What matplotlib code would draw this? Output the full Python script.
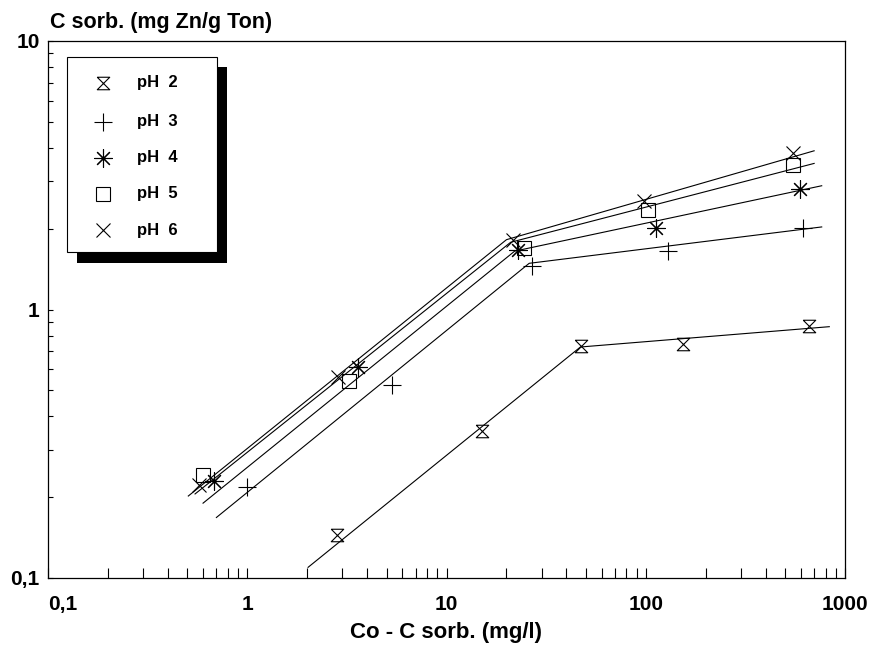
import numpy as np
import matplotlib
matplotlib.use('Agg')
import matplotlib.pyplot as plt
from matplotlib.path import Path
from matplotlib.patches import Rectangle

plt.rcParams['font.family'] = ['Liberation Sans', 'DejaVu Sans']
plt.rcParams['font.weight'] = 'bold'

labels = ['pH  2', 'pH  3', 'pH  4', 'pH  5', 'pH  6']
x_ph2 = [2.83, 15.1, 47.3, 154, 662]
y_ph2 = [0.1445, 0.354, 0.731, 0.744, 0.871]
x_ph3 = [1.0, 5.3, 27, 130, 618]
y_ph3 = [0.219, 0.523, 1.45, 1.656, 2.006]
x_ph4 = [0.684, 3.6, 22.9, 112.5, 594]
y_ph4 = [0.230, 0.612, 1.665, 2.02, 2.80]
x_ph5 = [0.602, 3.25, 24.5, 103, 551]
y_ph5 = [0.242, 0.543, 1.69, 2.35, 3.45]
x_ph6 = [0.574, 2.86, 21.6, 98, 551]
y_ph6 = [0.222, 0.562, 1.815, 2.54, 3.84]

# fitted lines: start, knee, end
fx_ph2 = [2.02, 47, 834]
fy_ph2 = [0.1096, 0.725, 0.863]
fx_ph3 = [0.70, 26, 764]
fy_ph3 = [0.168, 1.486, 2.03]
fx_ph4 = [0.60, 22, 764]
fy_ph4 = [0.19, 1.65, 2.89]
fx_ph5 = [0.547, 21, 700]
fy_ph5 = [0.2056, 1.78, 3.5]
fx_ph6 = [0.506, 20, 700]
fy_ph6 = [0.202, 1.82, 3.9]

xticks = [0.1, 1, 10, 100, 1000]
xticklabels = ['0,1', '1', '10', '100', '1000']
yticks = [0.1, 1, 10]
yticklabels = ['0,1', '1', '10']

# hourglass marker
hourglass = Path([(-1, 1), (1, 1), (-1, -1), (1, -1), (-1, 1)],
                 [Path.MOVETO, Path.LINETO, Path.LINETO, Path.LINETO, Path.LINETO])

styles = [
    dict(marker=hourglass, ms=9),
    dict(marker='+', ms=13),
    dict(marker=(8, 2, 0), ms=13),
    dict(marker='s', ms=10),
    dict(marker='x', ms=10),
]

series = [(x_ph2, y_ph2, fx_ph2, fy_ph2),
          (x_ph3, y_ph3, fx_ph3, fy_ph3),
          (x_ph4, y_ph4, fx_ph4, fy_ph4),
          (x_ph5, y_ph5, fx_ph5, fy_ph5),
          (x_ph6, y_ph6, fx_ph6, fy_ph6)]

W, H = 878, 650
fig = plt.figure(figsize=(W / 100, H / 100), dpi=100)
ax = fig.add_axes([48 / W, 1 - 578 / H, (845 - 48) / W, (578 - 41) / H])
ax.set_xscale('log')
ax.set_yscale('log')
ax.set_xlim(0.1, 1000)
ax.set_ylim(0.1, 10)

for (xs, ys, fx, fy), st in zip(series, styles):
    ax.plot(fx, fy, color='black', lw=0.8)
    ax.plot(xs, ys, ls='none', color='black', mfc='none', mec='black', mew=0.8,
            marker=st['marker'], ms=st['ms'])

ax.set_xticks(xticks)
ax.set_xticklabels(xticklabels)
ax.set_yticks(yticks)
ax.set_yticklabels(yticklabels)
ax.xaxis.set_minor_formatter(matplotlib.ticker.NullFormatter())
ax.yaxis.set_minor_formatter(matplotlib.ticker.NullFormatter())
ax.tick_params(axis='x', which='both', direction='in', length=7, width=0.8,
               labelsize=15, pad=12)
ax.tick_params(axis='y', which='both', direction='in', length=3.5, width=0.8,
               labelsize=15, pad=6)
xl = ax.get_xticklabels()
xl[0].set_horizontalalignment('left')
for s in ax.spines.values():
    s.set_linewidth(0.9)

ax.set_xlabel('Co - C sorb. (mg/l)', fontsize=16, fontweight='bold', labelpad=6)
fig.text(50 / W, 1 - 28 / H, 'C sorb. (mg Zn/g Ton)', fontsize=15.5,
         fontweight='bold', ha='left', va='baseline')

# legend box with black shadow
def px_rect(x0, y0, x1, y1, **kw):
    return Rectangle((x0 / W, 1 - y1 / H), (x1 - x0) / W, (y1 - y0) / H,
                     transform=fig.transFigure, **kw)

fig.patches.append(px_rect(77, 67, 227, 263, facecolor='black', edgecolor='none', zorder=5))
fig.patches.append(px_rect(67, 57, 217, 252, facecolor='white', edgecolor='black', lw=0.8, zorder=6))

rows = [83, 121.5, 157.5, 193.5, 230]
for lab, st, ry in zip(labels, styles, rows):
    fig.lines.append(plt.Line2D([103 / W], [1 - ry / H], transform=fig.transFigure,
                                ls='none', marker=st['marker'], ms=st['ms'],
                                mfc='none', mec='black', mew=0.8, zorder=7))
    fig.text(137 / W, 1 - ry / H, lab, fontsize=12, fontweight='bold',
             ha='left', va='center', zorder=7)

fig.savefig('out.png', dpi=100)
